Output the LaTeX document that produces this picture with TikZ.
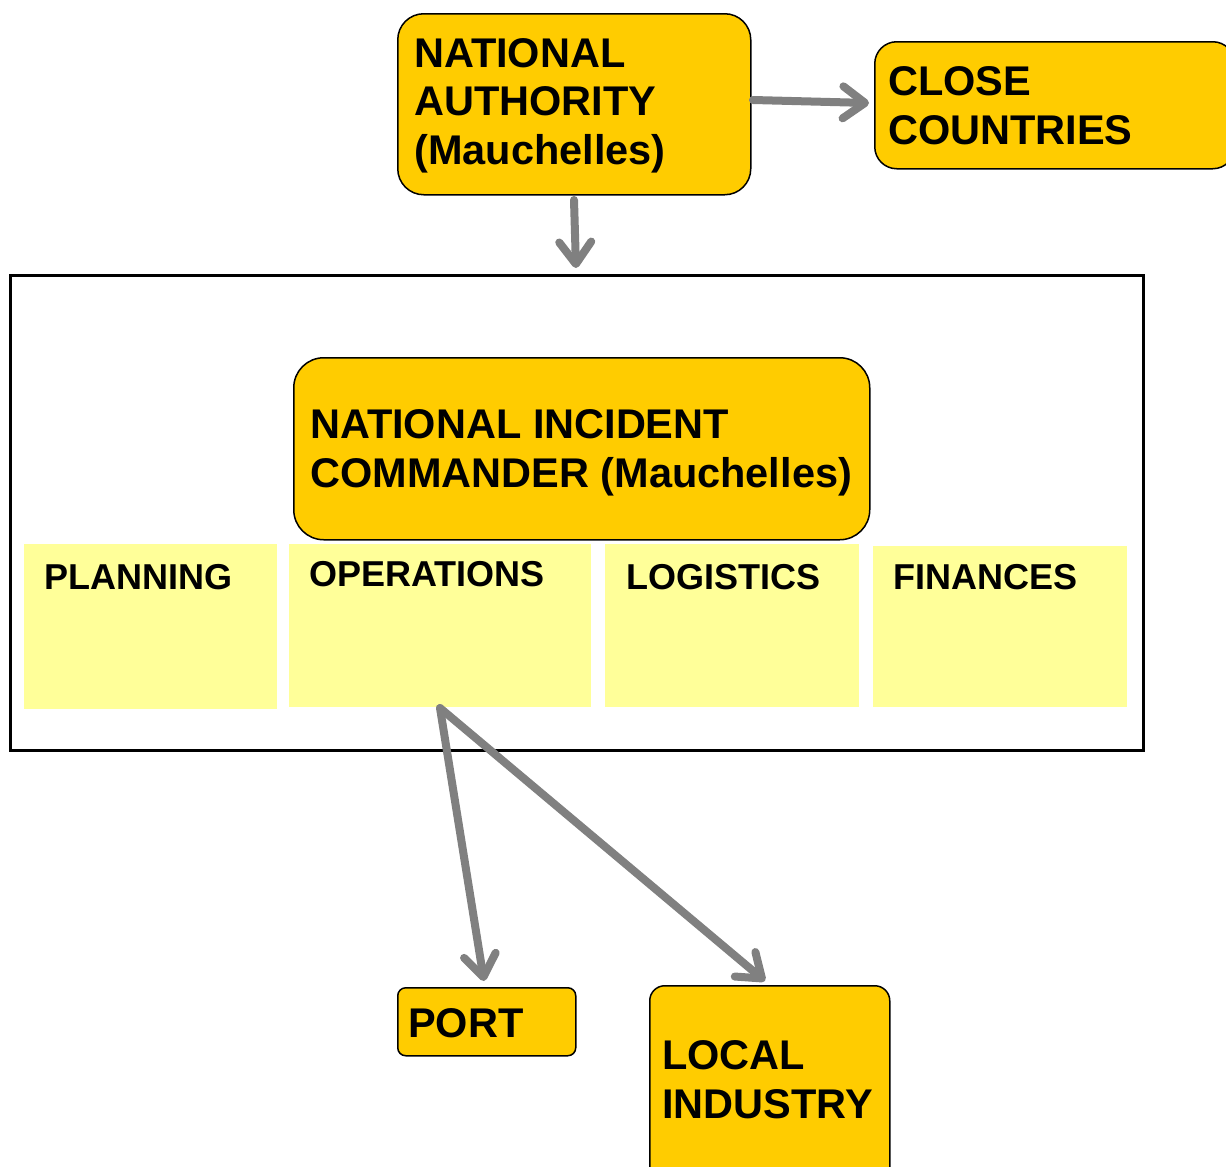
\documentclass[tikz,border=0pt]{standalone}
\usepackage{fontspec}
\setmainfont{Liberation Sans}
\usetikzlibrary{arrows.meta}
\definecolor{boxgold}{HTML}{FFCC00}
\definecolor{boxpale}{HTML}{FFFF99}
\definecolor{linkgray}{HTML}{808080}
\tikzset{
  goldbox/.style={draw=black, line width=1.5pt, fill=boxgold, anchor=north west, inner sep=0pt},
  palebox/.style={fill=boxpale, anchor=north west, inner sep=0pt},
  frame/.style={draw=black, line width=2.5pt},
  % multi-line labels are placed by the baseline of their last line
  bigtext/.style={anchor=base west, align=left, inner sep=0pt, font=\bfseries\fontsize{41.5}{48.5}\selectfont},
  smalltext/.style={anchor=base west, align=left, inner sep=0pt, font=\bfseries\fontsize{36}{43}\selectfont},
  link/.style={draw=linkgray, line width=8pt, line cap=round,
    -{Straight Barb[length=22pt, width=32pt, line width=8pt, line cap=round, line join=round]}}
}
\begin{document}
\begin{tikzpicture}[x=1pt, y=-1pt]
\useasboundingbox (0,0) rectangle (1226,1167);

% outer frame of the incident command structure
\node[frame, anchor=north west, minimum width=1133pt, minimum height=475pt, inner sep=0pt] (cmd) at (9,274) {};

% top level
\node[goldbox, rounded corners=26pt, minimum width=353pt, minimum height=181pt] (na) at (397,13) {};
\node[bigtext] (natext) at (414,164) {NATIONAL\\AUTHORITY\\(Mauchelles)};

\node[goldbox, rounded corners=22pt, minimum width=360pt, minimum height=127pt] (cc) at (874,41) {};
\node[bigtext] (cctext) at (888,144) {CLOSE\\COUNTRIES};

% incident commander
\node[goldbox, rounded corners=30pt, minimum width=576pt, minimum height=182pt] (nic) at (293,357) {};
\node[bigtext, font=\bfseries\fontsize{41.5}{49}\selectfont] (nictext) at (310,487) {NATIONAL INCIDENT\\COMMANDER (Mauchelles)};

% sections
\node[palebox, minimum width=253pt, minimum height=165pt] (plan) at (24,544) {};
\node[smalltext] (plantext) at (44,589) {PLANNING};
\node[palebox, minimum width=302pt, minimum height=163pt] (ops) at (289,544) {};
\node[smalltext] (opstext) at (309,586) {OPERATIONS};
\node[palebox, minimum width=254pt, minimum height=163pt] (log) at (605,544) {};
\node[smalltext] (logtext) at (626,589) {LOGISTICS};
\node[palebox, minimum width=254pt, minimum height=161pt] (fin) at (873,546) {};
\node[smalltext] (fintext) at (893,589) {FINANCES};

% field partners
\node[goldbox, rounded corners=8pt, minimum width=178pt, minimum height=68pt] (port) at (397,987) {};
\node[bigtext] (porttext) at (408,1037) {PORT};
\node[goldbox, rounded corners=15pt, minimum width=240pt, minimum height=200pt] (ind) at (649,985) {};
\node[bigtext] (indtext) at (662,1118) {LOCAL\\INDUSTRY};

% connectors
\coordinate (naeast) at (753,100);
\coordinate (ccwest) at (869,103);
\coordinate (nasouth) at (574,200);
\coordinate (cmdnorth) at (576,268);
\coordinate (opsfoot) at (440,708);
\coordinate (porttop) at (484,981);
\coordinate (indtop) at (765,981);

\draw[link] (naeast) -- (ccwest);
\draw[link] (nasouth) -- (cmdnorth);
\draw[link] (opsfoot) -- (porttop);
\draw[link] (opsfoot) -- (indtop);
\end{tikzpicture}
\end{document}
